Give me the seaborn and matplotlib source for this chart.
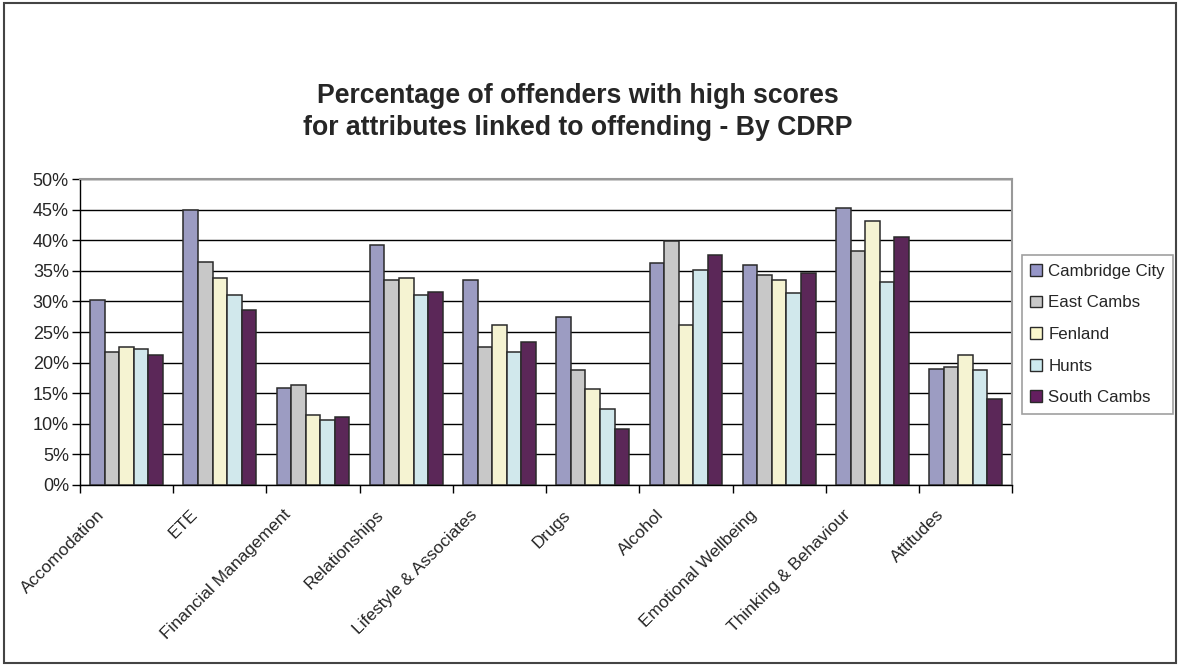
import numpy as np
import pandas as pd
import seaborn as sns
import matplotlib.pyplot as plt
from matplotlib.patches import Rectangle
from matplotlib.ticker import FixedLocator, FuncFormatter

attributes = ['Accomodation', 'ETE', 'Financial Management', 'Relationships',
              'Lifestyle & Associates', 'Drugs', 'Alcohol', 'Emotional Wellbeing',
              'Thinking & Behaviour', 'Attitudes']
areas = ['Cambridge City', 'East Cambs', 'Fenland', 'Hunts', 'South Cambs']

cambridge_city = [30.2, 45.0, 15.8, 39.2, 33.5, 27.5, 36.2, 35.9, 45.2, 19.0]
east_cambs = [21.7, 36.5, 16.3, 33.5, 22.6, 18.8, 39.9, 34.3, 38.2, 19.3]
fenland = [22.6, 33.8, 11.4, 33.8, 26.2, 15.7, 26.2, 33.5, 43.1, 21.3]
hunts = [22.3, 31.0, 10.6, 31.0, 21.7, 12.4, 35.2, 31.3, 33.2, 18.8]
south_cambs = [21.2, 28.6, 11.1, 31.6, 23.4, 9.2, 37.6, 34.6, 40.6, 14.1]

colors = ['#9696c8', '#c8c8c8', '#fbf8cc', '#cdebf0', '#641e60']

series = [cambridge_city, east_cambs, fenland, hunts, south_cambs]
rows = []
for area, vals in zip(areas, series):
    for att, v in zip(attributes, vals):
        rows.append({'Attribute': att, 'Area': area, 'Value': v})
df = pd.DataFrame(rows)

sns.set_style('white')
plt.rcParams['font.family'] = ['Liberation Sans', 'DejaVu Sans']

fig = plt.figure(figsize=(11.8, 6.65), dpi=100)
ax = fig.add_axes([0.0678, 0.2707, 0.79, 0.4601])

sns.barplot(data=df, x='Attribute', y='Value', hue='Area', order=attributes,
            hue_order=areas, palette=colors, width=0.78, gap=0,
            edgecolor='#2a2a2a', linewidth=1.1, ax=ax, legend=False, zorder=3)

ax.set_xlim(-0.5, len(attributes) - 0.5)
ax.set_ylim(0, 50)
ax.set_yticks(np.arange(0, 51, 5))
ax.yaxis.set_major_formatter(FuncFormatter(lambda v, p: f'{int(v)}%'))
ax.yaxis.grid(True, color='black', linewidth=1, zorder=0)
ax.set_axisbelow(True)

# ticks on category boundaries, labels a little left of centers (Excel style)
ax.xaxis.set_major_locator(FixedLocator(np.arange(-0.5, len(attributes), 1)))
ax.xaxis.set_minor_locator(FixedLocator(np.arange(len(attributes)) - 0.32))
ax.set_xticklabels([], minor=False)
ax.set_xticklabels(attributes, minor=True, rotation=45, ha='right',
                   rotation_mode='anchor', fontsize=12.5)
ax.tick_params(axis='x', which='major', length=6, width=1, color='black', direction='out', bottom=True)
ax.tick_params(axis='x', which='minor', length=0, pad=16)
ax.tick_params(axis='y', length=6, width=1, color='black', direction='out', left=True, labelsize=13, pad=2)

ax.set_xlabel('')
ax.set_ylabel('')
for s in ['left', 'bottom']:
    ax.spines[s].set_color('black')
    ax.spines[s].set_linewidth(1)
for s in ['top', 'right']:
    ax.spines[s].set_color('#999999')
    ax.spines[s].set_linewidth(1.5)

handles = [Rectangle((0, 0), 1, 1, facecolor=c, edgecolor='#2a2a2a', linewidth=1) for c in colors]
leg = fig.legend(handles, areas, loc='upper left', bbox_to_anchor=(0.866, 0.616),
                 fontsize=12.2, frameon=True, fancybox=False, handlelength=0.7,
                 handleheight=0.7, handletextpad=0.35, labelspacing=0.98,
                 borderpad=0.5, borderaxespad=0, edgecolor='#888888')
leg.get_frame().set_linewidth(1.2)

fig.text(0.49, 0.832, 'Percentage of offenders with high scores\nfor attributes linked to offending - By CDRP',
         ha='center', va='center', fontsize=19.2, fontweight='bold', linespacing=1.3)

fig.patches.append(Rectangle((0.003, 0.003), 0.994, 0.993, transform=fig.transFigure,
                             fill=False, edgecolor='#444444', linewidth=1.5))

fig.savefig('out.png', dpi=100)
